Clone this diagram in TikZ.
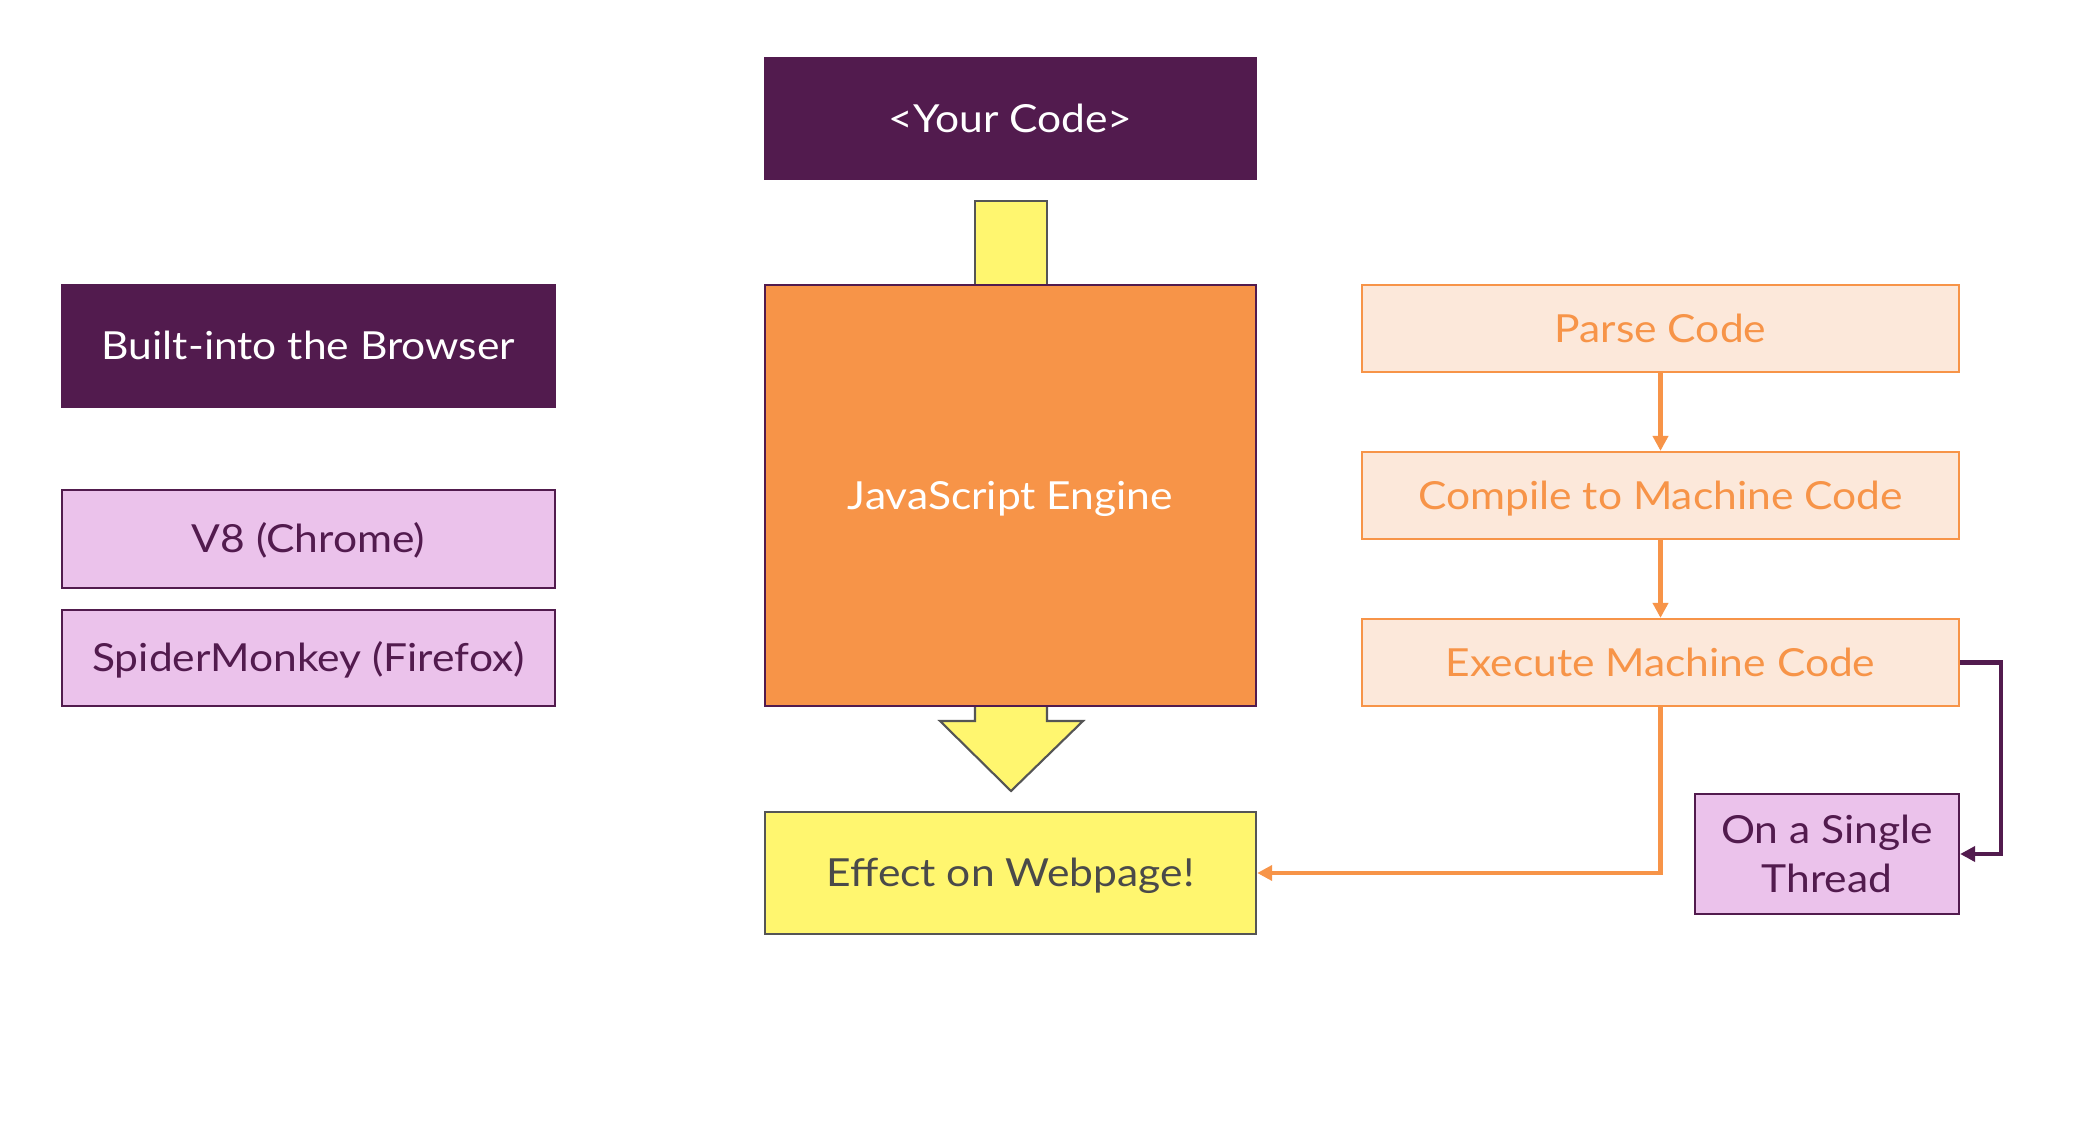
\documentclass[tikz,border=0pt]{standalone}
\usepackage{fontspec}
\setmainfont{Lato}[FakeStretch=1.1]
\usetikzlibrary{arrows.meta}
\definecolor{dpurple}{HTML}{521B4E}
\definecolor{lpurple}{HTML}{EBC2EB}
\definecolor{orng}{HTML}{F79448}
\definecolor{peach}{HTML}{FCE8DA}
\definecolor{yel}{HTML}{FFF66F}
\definecolor{gborder}{HTML}{555555}
\definecolor{gtext}{HTML}{4A4A4A}
\tikzset{
  box/.style={rectangle, inner sep=0pt, line width=0.6pt, font=\fontsize{11}{14}\selectfont, align=center},
  oneline/.style={text height=7.9pt, text depth=0pt},
  darkbox/.style={box, fill=dpurple, draw=dpurple, text=white},
  lightbox/.style={box, fill=lpurple, draw=dpurple, text=dpurple},
  stepbox/.style={box, oneline, fill=peach, draw=orng, text=orng},
  engbox/.style={box, oneline, fill=orng, draw=dpurple, text=white},
  yelbox/.style={box, oneline, fill=yel, draw=gborder, text=gtext},
  oarrow/.style={draw=orng, line width=1.15pt, -{Triangle[length=0.15cm,width=0.15cm]}},
  parrow/.style={draw=dpurple, line width=1.15pt, -{Triangle[length=0.15cm,width=0.15cm]}},
}
\begin{document}
\begin{tikzpicture}[x=0.01cm, y=-0.01cm]
\useasboundingbox[fill=white] (0,0) rectangle (2078,1124);
% stem above engine
\fill[yel] (975,201) rectangle (1047,286);
\draw[gborder, line width=0.6pt] (975,286) -- (975,201) -- (1047,201) -- (1047,286);
% down block arrow
\fill[yel] (975,704) -- (975,721) -- (940,721) -- (1011,791) -- (1083,721) -- (1047,721) -- (1047,704) -- cycle;
\draw[gborder, line width=0.6pt, line join=miter] (975,706) -- (975,721) -- (940,721) -- (1011,791) -- (1083,721) -- (1047,721) -- (1047,706);

\node[darkbox, oneline, minimum width=4.91cm, minimum height=1.21cm] (code) at (1010.5,118.5) {<Your Code>};
\node[engbox, minimum width=4.91cm, minimum height=4.21cm] (engine) at (1010.5,495.5) {JavaScript Engine};
\node[yelbox, minimum width=4.91cm, minimum height=1.22cm] (effect) at (1010.5,873) {Effect on Webpage!};

\node[darkbox, oneline, minimum width=4.93cm, minimum height=1.22cm] (built) at (308.5,346) {Built-into the Browser};
\node[lightbox, oneline, minimum width=4.93cm, minimum height=0.98cm] (v8) at (308.5,539) {V8 (Chrome)};
\node[lightbox, oneline, minimum width=4.93cm, minimum height=0.96cm] (spider) at (308.5,658) {SpiderMonkey (Firefox)};

\node[stepbox, minimum width=5.97cm, minimum height=0.87cm] (parse) at (1660.5,328.5) {Parse Code};
\node[stepbox, minimum width=5.97cm, minimum height=0.87cm] (compile) at (1660.5,495.5) {Compile to Machine Code};
\node[stepbox, minimum width=5.97cm, minimum height=0.87cm] (execute) at (1660.5,662.5) {Execute Machine Code};
\node[lightbox, minimum width=2.64cm, minimum height=1.20cm] (single) at (1827,854) {On a Single\\Thread};

\draw[oarrow] (parse) -- (compile);
\draw[oarrow] (compile) -- (execute);
\draw[oarrow] (execute.south) |- (effect.east);
\draw[parrow] (execute.east) -- ++(41,0) |- (single.east);
\end{tikzpicture}
\end{document}
